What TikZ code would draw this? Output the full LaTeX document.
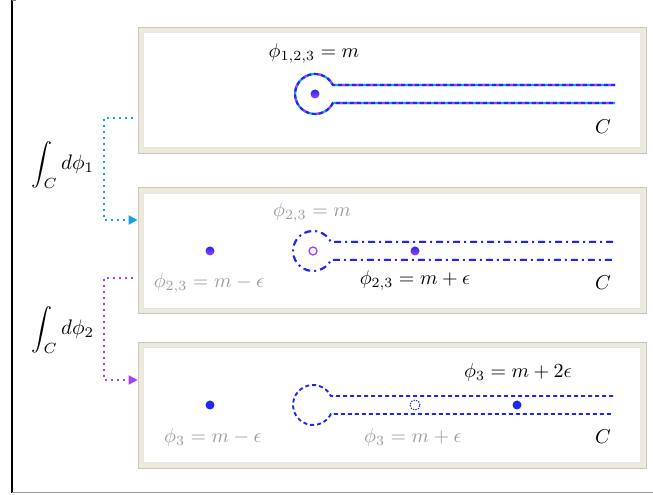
\documentclass[tikz,border=0pt]{standalone}
\usetikzlibrary{arrows.meta}
\definecolor{beigeC}{RGB}{238,234,218}
\definecolor{blueC}{RGB}{30,40,240}
\definecolor{cyanC}{RGB}{26,160,240}
\definecolor{purpC}{RGB}{165,65,250}
\definecolor{grayT}{RGB}{155,155,155}
\tikzset{
  boxframe/.style={fill=beigeC,draw=black!22,line width=0.6pt,minimum width=508pt,minimum height=126pt,inner sep=0pt},
  lbl/.style={scale=2,inner sep=0pt},
  glbl/.style={lbl,text=grayT},
  conn/.style={line width=1.8pt,dash pattern=on 1.8pt off 4.2pt},
  keyhole/.pic={\path[pic actions] (300,9) -- (17.9,9) arc[start angle=26.74,end angle=333.26,radius=20] -- (300,-9);},
  dotb/.style={circle,inner sep=0pt,minimum size=9pt,fill=blueC},
  dotbp/.style={circle,inner sep=0pt,minimum size=9pt,left color=blueC,right color=purpC,shading angle=0},
}
\begin{document}
\begin{tikzpicture}[x=1pt,y=1pt]
\useasboundingbox (0,0) rectangle (653,495);
% outer frame lines
\draw[black,line width=1.4pt] (12,495) -- (12,2);
\draw[black!40,line width=1pt] (12,2) -- (653,2);
\draw[black!50,line width=1pt] (12,494.5) -- (16,494.5);
% boxes
\foreach \n/\cy in {box1/405,box2/244.5,box3/90}{
  \node[boxframe] (\n) at (392,\cy) {};
  \fill[white] ([shift={(6,-6)}]\n.north west) rectangle ([shift={(-6,6)}]\n.south east);
  \draw[black!10,line width=0.5pt] ([shift={(6,-6)}]\n.north west) rectangle ([shift={(-6,6)}]\n.south east);
}
% box 1
\pic[draw=cyanC,line width=2.2pt] at (315,401) {keyhole};
\pic[draw=purpC,line width=2.2pt,dash pattern=on 3pt off 11pt,dash phase=-4pt] at (315,401) {keyhole};
\pic[draw=blueC,line width=2.2pt,dash pattern=on 4pt off 3pt] at (315,401) {keyhole};
\node[circle,inner sep=0pt,minimum size=9pt,top color=blueC,bottom color=purpC] (d1) at (315,401) {};
\node[lbl] (l1) at (314,442) {$\phi_{1,2,3}=m$};
\node[lbl] (c1) at (603,368) {$C$};
% box 2
\pic[draw=purpC,line width=2pt,dash pattern=on 5pt off 12pt,dash phase=-1pt] at (313,244) {keyhole};
\pic[draw=blueC,line width=2pt,dash pattern=on 7pt off 4pt on 2pt off 4pt] at (313,244) {keyhole};
\node[circle,inner sep=0pt,minimum size=8pt,draw=purpC,line width=1.3pt] (o2) at (313,244) {};
\node[dotbp] (d2a) at (210,244) {};
\node[dotbp] (d2b) at (415,244) {};
\node[glbl] (l2a) at (312,283) {$\phi_{2,3}=m$};
\node[glbl] (l2b) at (209,212) {$\phi_{2,3}=m-\epsilon$};
\node[lbl] (l2c) at (415,215) {$\phi_{2,3}=m+\epsilon$};
\node[lbl] (c2) at (603,212) {$C$};
% box 3
\pic[draw=blueC,line width=1.9pt,dash pattern=on 4pt off 3pt] at (313,90) {keyhole};
\node[circle,inner sep=0pt,minimum size=10pt,draw=blueC,line width=1.1pt,dash pattern=on 1.3pt off 1.3pt] (o3) at (415,90) {};
\node[dotb] (d3a) at (210,90) {};
\node[dotb] (d3b) at (517,90) {};
\node[lbl] (l3a) at (518,122) {$\phi_3=m+2\epsilon$};
\node[glbl] (l3b) at (213,57) {$\phi_3=m-\epsilon$};
\node[glbl] (l3c) at (413,57) {$\phi_3=m+\epsilon$};
\node[lbl] (c3) at (603,58) {$C$};
% integrals
\node[scale=2.1,inner sep=0pt] (i1) at (63,330) {$\displaystyle\int_C d\phi_1$};
\node[scale=2.1,inner sep=0pt] (i2) at (63,165) {$\displaystyle\int_C d\phi_2$};
% connectors
\coordinate (s1) at ([xshift=-5pt,yshift=-28pt]box1.west);
\coordinate (s2) at ([xshift=-5pt,yshift=-27.5pt]box2.west);
\draw[conn,draw=cyanC,-{Triangle[length=9pt,width=9pt,fill=cyanC]}] (s1) -- ++(-29,0) |- ([yshift=30.5pt]box2.west);
\draw[conn,draw=purpC,-{Triangle[length=9pt,width=9pt,fill=purpC]}] (s2) -- ++(-29,0) |- ([yshift=25pt]box3.west);
\end{tikzpicture}
\end{document}
